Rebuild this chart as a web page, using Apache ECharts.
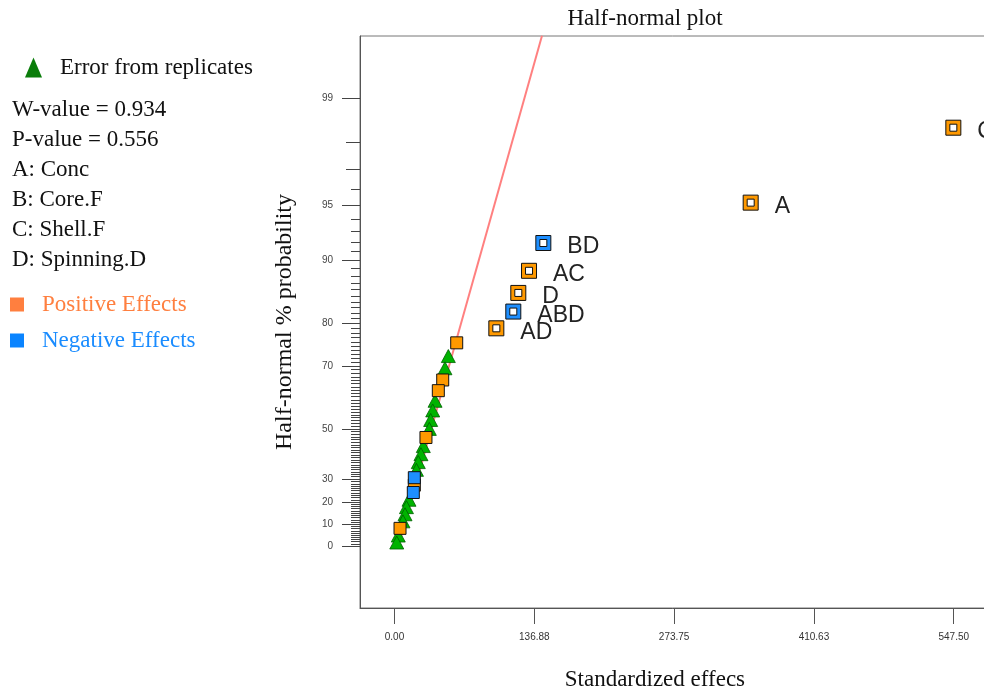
<!DOCTYPE html>
<html><head><meta charset="utf-8">
<script src="https://cdn.jsdelivr.net/npm/echarts@6/dist/echarts.min.js"></script>
<style>html,body{margin:0;padding:0;background:#fff}#c{width:984px;height:692px}</style>
</head><body><div id="c"></div>
<script>
// ---------- data (x = standardized effect, p = half-normal % probability) ----------
const errorX = [52.7, 49.4, 39.7, 37.4, 35.4, 34.1, 28.2, 25.9, 23.3, 21.5, 14.2, 11.7, 10.3, 8.3, 3.7, 2.2];
const errorP = [72.6, 69.4, 59.7, 56.5, 53.2, 50.0, 43.5, 40.3, 37.1, 33.9, 21.0, 17.7, 14.5, 11.3, 4.8, 1.6];
const posX = [60.9, 47.2, 42.9, 30.8, 19.4, 5.4];
const posP = [75.8, 66.1, 62.9, 46.8, 27.4, 8.1];
const negX = [19.4, 18.4];
const negP = [30.6, 24.2];
const labeledNames = ['C', 'A', 'BD', 'AC', 'D', 'ABD', 'AD'];
const labeledX = [547.1, 348.7, 145.7, 131.7, 121.2, 116.3, 99.7];
const labeledP = [98.4, 95.2, 91.9, 88.7, 85.5, 82.3, 79.0];
const labeledSign = ['pos', 'pos', 'neg', 'pos', 'pos', 'neg', 'pos'];
const refLineX = [3.8, 144.4];
const refLineP = [0, 99.67];
const xTickValues = [0, 136.875, 273.75, 410.625, 547.5];
const xTickLabels = ['0.00', '136.88', '273.75', '410.63', '547.50'];
const yTickPercents = [0, 10, 20, 30, 50, 70, 80, 90, 95, 99];
const yMidPercents = [97, 98];
const infoLines = ['W-value = 0.934', 'P-value = 0.556', 'A: Conc', 'B: Core.F', 'C: Shell.F', 'D: Spinning.D'];

// ---------- half-normal probability scale ----------
function probit(p){
  const a=[-3.969683028665376e+01,2.209460984245205e+02,-2.759285104469687e+02,1.383577518672690e+02,-3.066479806614716e+01,2.506628277459239e+00];
  const b=[-5.447609879822406e+01,1.615858368580409e+02,-1.556989798598866e+02,6.680131188771972e+01,-1.328068155288572e+01];
  const c=[-7.784894002430293e-03,-3.223964580411365e-01,-2.400758277161838e+00,-2.549732539343734e+00,4.374664141464968e+00,2.938163982698783e+00];
  const d=[7.784695709041462e-03,3.224671290700398e-01,2.445134137142996e+00,3.754408661907416e+00];
  const pl=0.02425, ph=1-pl; let q, r;
  if (p < pl) { q=Math.sqrt(-2*Math.log(p)); return (((((c[0]*q+c[1])*q+c[2])*q+c[3])*q+c[4])*q+c[5])/((((d[0]*q+d[1])*q+d[2])*q+d[3])*q+1); }
  if (p <= ph) { q=p-0.5; r=q*q; return (((((a[0]*r+a[1])*r+a[2])*r+a[3])*r+a[4])*r+a[5])*q/(((((b[0]*r+b[1])*r+b[2])*r+b[3])*r+b[4])*r+1); }
  q=Math.sqrt(-2*Math.log(1-p)); return -(((((c[0]*q+c[1])*q+c[2])*q+c[3])*q+c[4])*q+c[5])/((((d[0]*q+d[1])*q+d[2])*q+d[3])*q+1);
}
const hz = pct => probit(0.5 + pct / 200);
const pts = (xs, ps) => xs.map((x, i) => [x, hz(ps[i])]);

const minorPercents = [];
for (let i = 1; i < 99; i++) if (yTickPercents.indexOf(i) < 0 && yMidPercents.indexOf(i) < 0) minorPercents.push(i);

const Y_MIN = -0.357, Y_MAX = 2.937;
const X_MIN = -33.78, X_MAX = 620;

function labeledData(sign){
  const out = [];
  labeledNames.forEach((n, i) => { if (labeledSign[i] === sign) out.push({ name: n, value: [labeledX[i], hz(labeledP[i])] }); });
  return out;
}
const hollow = 'path://M0,0H15V15H0Z M4,4V11H11V4Z';
const labelStyle = { show: true, position: 'right', distance: 16, offset: [0, 4], formatter: p => p.name,
  fontFamily: 'Liberation Sans', fontSize: 23, color: '#222' };

const serif = 'Liberation Serif';
const tickAxis = (vals, len) => ({
  type: 'value', position: 'left', min: Y_MIN, max: Y_MAX,
  axisLine: { show: false, onZero: false }, splitLine: { show: false }, axisLabel: { show: false },
  axisTick: { show: true, length: len, customValues: vals.map(hz), lineStyle: { color: '#444', width: 1 } }
});

const chart = echarts.init(document.getElementById('c'), null, { renderer: 'canvas' });
chart.setOption({
  animation: false,
  backgroundColor: '#fff',
  title: { text: 'Half-normal plot', left: 645, top: 7, textAlign: 'center', padding: 0,
    textStyle: { fontFamily: serif, fontSize: 23, fontWeight: 'normal', color: '#111' } },
  legend: [
    { data: [{ name: 'Error from replicates', icon: 'triangle', itemStyle: { color: '#0a7d0a', borderWidth: 0 } }],
      left: 20, top: 51, itemWidth: 17, itemHeight: 20, selectedMode: false,
      textStyle: { fontFamily: serif, fontSize: 23, color: '#111', padding: [0, 0, 0, 13] } },
    { data: [
        { name: 'Positive Effects', icon: 'rect', itemStyle: { color: '#ff7f3f', borderWidth: 0 }, textStyle: { color: '#ff7f3f' } },
        { name: 'Negative Effects', icon: 'rect', itemStyle: { color: '#0a84ff', borderWidth: 0 }, textStyle: { color: '#1a8cff' } }],
      orient: 'vertical', left: 5, top: 288, itemWidth: 14, itemHeight: 14, itemGap: 13, selectedMode: false,
      textStyle: { fontFamily: serif, fontSize: 23, padding: [0, 0, 0, 13] } }
  ],
  graphic: [{ type: 'text', left: 12, top: 95, silent: true,
    style: { text: infoLines.join('\n'), font: '23px "Liberation Serif"', lineHeight: 30, fill: '#111' } }],
  grid: { left: 360, top: 36, width: 667.8, height: 572, show: true,
    borderColor: '#777', borderWidth: 1, backgroundColor: 'transparent', outerBoundsMode: 'none', containLabel: false },
  xAxis: { type: 'value', min: X_MIN, max: X_MAX,
    name: 'Standardized effecs', nameLocation: 'middle', nameGap: 60,
    nameTextStyle: { fontFamily: serif, fontSize: 23, color: '#111', padding: [0, 78, 0, 0] },
    axisLine: { show: true, onZero: false, lineStyle: { color: '#555', width: 1 } },
    axisTick: { show: true, length: 16, customValues: xTickValues, lineStyle: { color: '#555' } },
    axisLabel: { show: true, margin: 24, customValues: xTickValues, fontFamily: 'Liberation Sans', fontSize: 10, color: '#333',
      formatter: v => { const i = xTickValues.findIndex(t => Math.abs(t - v) < 1e-6); return i >= 0 ? xTickLabels[i] : ''; } },
    splitLine: { show: false } },
  yAxis: [
    { type: 'value', position: 'left', min: Y_MIN, max: Y_MAX,
      name: 'Half-normal % probability', nameLocation: 'middle', nameGap: 63, nameRotate: 90,
      nameTextStyle: { fontFamily: serif, fontSize: 24, color: '#111' },
      axisLine: { show: true, onZero: false, lineStyle: { color: '#555', width: 1 } },
      axisTick: { show: true, length: 18, customValues: yTickPercents.map(hz), lineStyle: { color: '#444' } },
      axisLabel: { show: true, margin: 27, customValues: yTickPercents.map(hz), fontFamily: 'Liberation Sans', fontSize: 10, color: '#444',
        formatter: v => { let bi = 0, bd = 1e9; yTickPercents.forEach((p, i) => { const dd = Math.abs(hz(p) - v); if (dd < bd) { bd = dd; bi = i; } }); return String(yTickPercents[bi]); } },
      splitLine: { show: false } },
    tickAxis(yMidPercents, 14),
    tickAxis(minorPercents, 9)
  ],
  series: [
    { name: 'Reference line', type: 'line', data: pts(refLineX, refLineP), showSymbol: false, symbol: 'none',
      lineStyle: { color: '#ff8080', width: 2 }, silent: true, z: 1, clip: true },
    { name: 'Error from replicates', type: 'scatter', data: pts(errorX, errorP), symbol: 'triangle', symbolSize: [14, 13],
      itemStyle: { color: '#00b300', borderColor: '#005f00', borderWidth: 0.8, opacity: 1 }, z: 2 },
    { name: 'Positive Effects', type: 'scatter', data: pts(posX, posP), symbol: 'rect', symbolSize: 12,
      itemStyle: { color: '#ff9900', borderColor: '#111', borderWidth: 1, opacity: 1 }, z: 3 },
    { name: 'Negative Effects', type: 'scatter', data: pts(negX, negP), symbol: 'rect', symbolSize: 12,
      itemStyle: { color: '#1e8fff', borderColor: '#111', borderWidth: 1, opacity: 1 }, z: 3 },
    { name: 'Positive Effects', type: 'scatter', data: labeledData('pos'), symbol: hollow, symbolSize: 15,
      itemStyle: { color: '#ff9900', borderColor: '#111', borderWidth: 1, opacity: 1 }, label: labelStyle, z: 4 },
    { name: 'Negative Effects', type: 'scatter', data: labeledData('neg'), symbol: hollow, symbolSize: 15,
      itemStyle: { color: '#1e8fff', borderColor: '#111', borderWidth: 1, opacity: 1 }, label: labelStyle, z: 4 }
  ]
});
</script></body></html>
